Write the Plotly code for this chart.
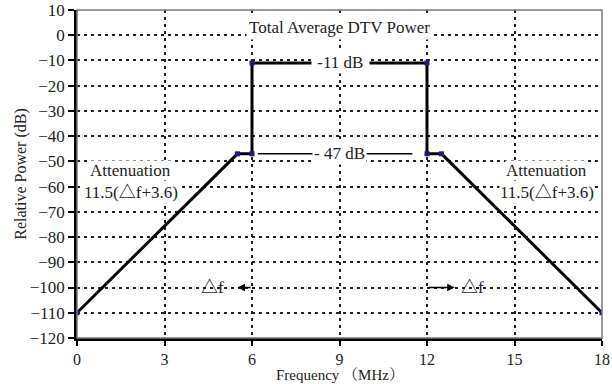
import plotly.graph_objects as go

# Data
freq = [0, 5.5, 6, 6, 12, 12, 12.5, 18]
power = [-110, -47, -47, -11, -11, -47, -47, -110]
x_ticks = [0, 3, 6, 9, 12, 15, 18]
y_ticks = list(range(-120, 11, 10))
leader_x = [6.2, 11.5]
leader_y = [-47, -47]

FONT = "Liberation Serif, Times New Roman, Noto Serif CJK SC, Noto Sans CJK SC, serif"

fig = go.Figure()
fig.add_trace(go.Scatter(x=leader_x, y=leader_y, mode="lines",
                         line=dict(color="black", width=1.5), hoverinfo="skip"))
fig.add_trace(go.Scatter(x=freq, y=power, mode="lines+markers",
                         line=dict(color="black", width=3),
                         marker=dict(color="#1c1c7a", size=5, symbol="square")))

grid = dict(showgrid=True, gridcolor="#222222", gridwidth=1.6, griddash="3px,4px")

fig.update_xaxes(range=[0, 18], tickvals=x_ticks, ticks="outside", ticklen=5,
                 tickcolor="black", tickwidth=2, showline=True, linecolor="black",
                 linewidth=2.5, zeroline=False, automargin=False,
                 tickfont=dict(size=16, family=FONT, color="#222"), **grid)
fig.update_yaxes(range=[-120, 10], tickvals=y_ticks, ticks="outside", ticklen=6,
                 tickcolor="black", tickwidth=2, showline=True, linecolor="black",
                 linewidth=2.5, zeroline=False, automargin=False,
                 title=dict(text="Relative Power (dB)", standoff=0,
                            font=dict(size=16, family=FONT, color="#222")),
                 tickfont=dict(size=17, family=FONT, color="#222"), **grid)

# top and right border
fig.add_shape(type="rect", xref="paper", yref="paper", x0=0, y0=0, x1=1, y1=1,
              line=dict(color="#777777", width=1.5), layer="above")

# x-axis title
fig.add_annotation(xref="paper", yref="paper", x=0.5, y=-0.112, yanchor="middle",
                   text="Frequency （MHz）", showarrow=False,
                   font=dict(size=15, family=FONT, color="#222"))

tf = dict(size=17, family=FONT, color="#222")
anns = [
    dict(x=9, y=3, text="Total Average DTV Power", bgcolor="white", borderpad=2),
    dict(x=9.05, y=-11, text=" -11 dB ", bgcolor="white", borderpad=1),
    dict(x=9.0, y=-47, text="- 47 dB", bgcolor="white", borderpad=1),
    dict(x=1.85, y=-53.5, text="Attenuation", bgcolor="white", borderpad=0),
    dict(x=1.85, y=-62.5, text="11.5(△f+3.6)", bgcolor="white", borderpad=0),
    dict(x=16.1, y=-53.5, text="Attenuation", bgcolor="white", borderpad=0),
    dict(x=16.1, y=-62.5, text="11.5(△f+3.6)", bgcolor="white", borderpad=0),
    dict(x=4.65, y=-100, text="△f"),
    dict(x=13.55, y=-100, text="△f"),
]
for a in anns:
    fig.add_annotation(xref="x", yref="y", showarrow=False, font=tf, **a)

fig.add_annotation(x=5.5, y=-100, ax=6, ay=-100, xref="x", yref="y", axref="x", ayref="y",
                   text="", showarrow=True, arrowhead=2, arrowsize=1, arrowwidth=1.5,
                   arrowcolor="black")
fig.add_annotation(x=12.95, y=-100, ax=12, ay=-100, xref="x", yref="y", axref="x", ayref="y",
                   text="", showarrow=True, arrowhead=2, arrowsize=1, arrowwidth=1.5,
                   arrowcolor="black")

fig.update_layout(width=612, height=384, margin=dict(l=77, r=10, t=10, b=46),
                  plot_bgcolor="white", paper_bgcolor="white", showlegend=False,
                  font=dict(family=FONT))
fig.write_html("out.html", config={"displayModeBar": False},
               post_script="document.body.style.margin='0';document.body.style.overflow='hidden';")
